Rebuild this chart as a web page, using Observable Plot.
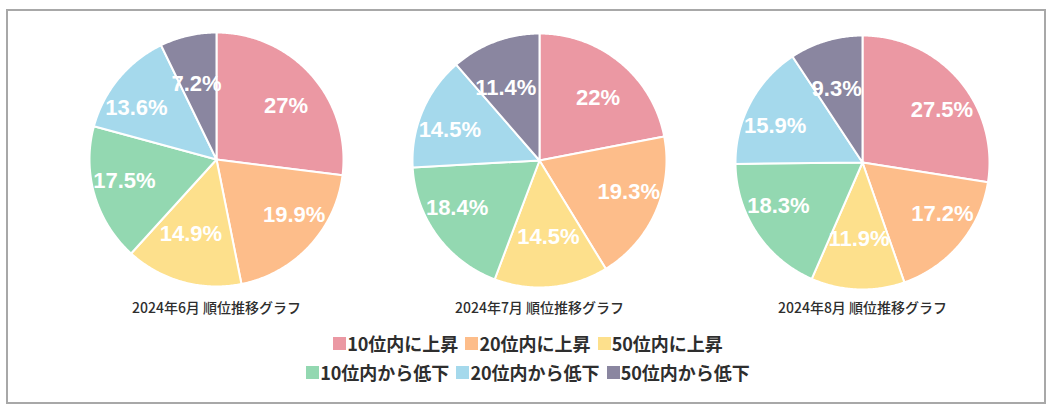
<!DOCTYPE html>
<html><head><meta charset="utf-8">
<script src="https://cdn.jsdelivr.net/npm/d3@7"></script>
<script src="https://cdn.jsdelivr.net/npm/@observablehq/plot@0.6"></script>
<style>
body{margin:0;background:#fff;width:1051px;height:411px;position:relative;overflow:hidden;font-family:"Noto Sans CJK JP",sans-serif}
#frame{position:absolute;left:6px;top:9px;width:1040px;height:395px;box-sizing:border-box;border:2px solid #a8a8a8}
#chart{position:absolute;left:0;top:0}
#legend{position:absolute;left:0;top:329px;width:1056px}
.row{display:flex;justify-content:center;height:29px;align-items:center}
.item{display:flex;align-items:center;margin:0 3.5px;font-weight:700;font-size:18px;color:#2e2e2e;line-height:29px}
.sw{width:13px;height:13px;margin-right:1px}
</style></head>
<body>
<div id="frame"></div>
<div id="chart"></div>
<div id="legend"></div>
<script>
// ---- data ----
const months = ["2024年6月", "2024年7月", "2024年8月"];
const titleSuffix = " 順位推移グラフ";
const categories = ["10位内に上昇", "20位内に上昇", "50位内に上昇", "10位内から低下", "20位内から低下", "50位内から低下"];
const june = [27, 19.9, 14.9, 17.5, 13.6, 7.2];
const july = [22, 19.3, 14.5, 18.4, 14.5, 11.4];
const august = [27.5, 17.2, 11.9, 18.3, 15.9, 9.3];
const series = [june, july, august];

// ---- style / layout ----
const colors = ["#eb98a3", "#fdbd8a", "#fde08c", "#93d8b1", "#a5d9ec", "#8a86a0"];
const R = 127;
const centers = [[216, 159], [539, 160], [862, 162]];
const labelFont = 22;
const titleY = 308;

const ctx = document.createElement("canvas").getContext("2d");
ctx.font = `bold ${labelFont}px "Liberation Sans", Arial, sans-serif`;

const pie = d3.pie().sort(null).value(d => d);
const wedges = [];
const labels = [];
series.forEach((vals, m) => {
  const [cx, cy] = centers[m];
  pie(vals).forEach((a, i) => {
    const key = m + "-" + i;
    wedges.push({key, cat: categories[i], x: cx, y: cy});
    const n = Math.max(2, Math.ceil((a.endAngle - a.startAngle) / 0.01));
    for (let k = 0; k <= n; k++) {
      const t = a.startAngle + (a.endAngle - a.startAngle) * k / n;
      wedges.push({key, cat: categories[i], x: cx + R * Math.sin(t), y: cy - R * Math.cos(t)});
    }
    // label placement (anchor at mid radius, aligned outward)
    const mid = (a.startAngle + a.endAngle) / 2;
    const vx = Math.sin(mid), vy = -Math.cos(mid);
    const text = vals[i] + "%";
    const w = ctx.measureText(text).width, h = labelFont * 1.2;
    const vs = 1 / Math.max(Math.abs(vx), Math.abs(vy));
    const dx = (w / 2) * vx * vs;
    const dy = (h / 2) * vy * vs;
    labels.push({x: cx + (R / 2) * vx + dx, y: cy + (R / 2) * vy + dy, text});
  });
});

const chart = Plot.plot({
  width: 1051,
  height: 320,
  margin: 0,
  style: {background: "transparent", fontFamily: '"Noto Sans CJK JP", sans-serif'},
  x: {domain: [0, 1051], axis: null},
  y: {domain: [0, 320], reverse: true, axis: null},
  color: {domain: categories, range: colors},
  marks: [
    Plot.line(wedges, {x: "x", y: "y", z: "key", fill: "cat", stroke: "#fff", strokeWidth: 2, curve: "linear-closed"}),
    Plot.text(labels, {x: "x", y: "y", text: "text", fill: "#fff", fontSize: labelFont, fontWeight: "bold", fontFamily: '"Liberation Sans", Arial, sans-serif'}),
    Plot.text(months, {x: (d, i) => centers[i][0], y: () => titleY, text: d => d + titleSuffix, fill: "#2e2e2e", fontSize: 14, fontWeight: 500})
  ]
});
document.getElementById("chart").append(chart);

const legend = document.getElementById("legend");
[[0, 1, 2], [3, 4, 5]].forEach(rowIdx => {
  const row = document.createElement("div");
  row.className = "row";
  rowIdx.forEach(i => {
    const item = document.createElement("div");
    item.className = "item";
    const sw = document.createElement("span");
    sw.className = "sw";
    sw.style.background = colors[i];
    const t = document.createElement("span");
    t.textContent = categories[i];
    item.append(sw, t);
    row.append(item);
  });
  legend.append(row);
});
</script>
</body></html>
